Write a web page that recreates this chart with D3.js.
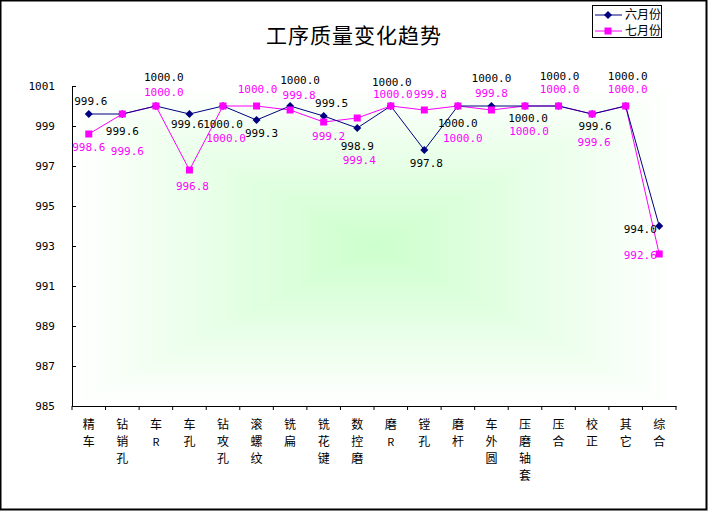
<!DOCTYPE html>
<html>
<head>
<meta charset="utf-8">
<script src="https://cdn.jsdelivr.net/npm/d3@7"></script>
<style>
  body { margin: 0; background: #fff; }
  svg { display: block; }
</style>
</head>
<body>
<svg width="708" height="511"></svg>
<script>
// Chart data
const categories = ["精车", "钻销孔", "车R", "车孔", "钻攻孔", "滚螺纹", "铣扁", "铣花键", "数控磨",
                    "磨R", "镗孔", "磨杆", "车外圆", "压磨轴套", "压合", "校正", "其它", "综合"];
const seriesNames = ["六月份", "七月份"];
const june = [999.6, 999.6, 1000.0, 999.6, 1000.0, 999.3, 1000.0, 999.5, 998.9,
              1000.0, 997.8, 1000.0, 1000.0, 1000.0, 1000.0, 999.6, 1000.0, 994.0];
const july = [998.6, 999.6, 1000.0, 996.8, 1000.0, 1000.0, 999.8, 999.2, 999.4,
              1000.0, 999.8, 1000.0, 999.8, 1000.0, 1000.0, 999.6, 1000.0, 992.6];
const yTicks = [985, 987, 989, 991, 993, 995, 997, 999, 1001];

// Hand placed data label offsets (label centre relative to its point), as in the original
const juneLabelOffsets = [[2,-13],[0,17],[8,-29],[-2,10],[0,18],[5,13],[10,-26],[8,-13],[0,18],
                          [1,-24],[2,13],[0,17],[0,-28],[3,12],[1,-30],[3,12],[2,-30],[-19,3]];
const julyLabelOffsets = [[0,13],[5,37],[8,-14],[3,16],[3,32],[1,-17],[9,-15],[5,14],[2,42],
                          [2,-12],[6,-16],[5,32],[0,-17],[4,25],[1,-17],[2,28],[2,-17],[-19,1]];

const svg = d3.select("svg");
const W = 708, H = 511;
const plot = {left: 72, right: 676, top: 86, bottom: 406};

const x = d3.scaleBand().domain(categories).range([plot.left, plot.right]).padding(0);
const y = d3.scaleLinear().domain([985, 1001]).range([plot.bottom, plot.top]);
const cx = d => x(d) + x.bandwidth() / 2;

// outer frame
svg.append("rect")
    .attr("x", 0.5).attr("y", 0.5)
    .attr("width", W - 2).attr("height", H - 2)
    .attr("fill", "#fff").attr("stroke", "#000").attr("stroke-width", 2);

// plot area: rectangular "from centre" gradient, white edges to light green centre
const steps = 60;
const shade = d3.interpolateRgb("#ffffff", "#ccffcc");
const pw = plot.right - plot.left, ph = plot.bottom - plot.top;
const bg = svg.append("g");
d3.range(steps).forEach(k => {
    const t = k / steps;
    bg.append("rect")
        .attr("x", plot.left + t * pw / 2)
        .attr("y", plot.top + t * ph / 2)
        .attr("width", pw * (1 - t))
        .attr("height", ph * (1 - t))
        .attr("fill", shade(t));
});

// title
svg.append("text")
    .attr("x", 354).attr("y", 43)
    .attr("text-anchor", "middle")
    .attr("font-family", "Noto Sans CJK SC")
    .attr("font-size", 21)
    .attr("letter-spacing", 1)
    .text("工序质量变化趋势");

// y axis
const yAxis = d3.axisLeft(y).tickValues(yTicks).tickFormat(d3.format("d"))
    .tickSizeInner(-4).tickSizeOuter(0).tickPadding(17);
svg.append("g")
    .attr("transform", `translate(${plot.left},0)`)
    .call(yAxis)
    .call(g => g.selectAll("text")
        .attr("font-family", "DejaVu Sans Mono").attr("font-size", 11).attr("fill", "#000"))
    .call(g => g.selectAll("line, path").attr("stroke", "#000"));

// x axis with ticks on band boundaries
const xAxisG = svg.append("g").attr("transform", `translate(0,${plot.bottom})`);
xAxisG.call(d3.axisBottom(x).tickSize(0).tickFormat(""))
    .call(g => g.select(".domain").attr("stroke", "#000"));
const bounds = categories.map(c => x(c)).concat([x(categories[categories.length - 1]) + x.bandwidth()]);
xAxisG.selectAll("line.bound")
    .data(bounds)
    .enter().append("line")
    .attr("class", "bound")
    .attr("x1", d => d).attr("x2", d => d)
    .attr("y1", 0).attr("y2", 4)
    .attr("stroke", "#000");

// vertical category labels, one character per line
const catLabels = svg.append("g")
    .attr("font-family", "Noto Sans CJK SC")
    .attr("text-anchor", "middle");
categories.forEach(c => {
    Array.from(c).forEach((ch, i) => {
        catLabels.append("text")
            .attr("x", cx(c))
            .attr("y", 425 + i * 17)
            .attr("dy", "0.35em")
            .attr("font-size", /[A-Za-z]/.test(ch) ? 11 : 12)
            .text(ch);
    });
});

// series
const series = [
    {name: seriesNames[0], values: june, color: "#000080", textColor: "#000", marker: "diamond", offsets: juneLabelOffsets},
    {name: seriesNames[1], values: july, color: "#ff00ff", textColor: "#ff00ff", marker: "square", offsets: julyLabelOffsets}
];

const line = d3.line()
    .x((d, i) => cx(categories[i]))
    .y(d => y(d));

function drawMarker(g, type, color) {
    if (type === "diamond") {
        g.append("path").attr("d", "M0,-4L4,0L0,4L-4,0Z").attr("fill", color);
    } else {
        g.append("rect").attr("x", -3.5).attr("y", -3.5).attr("width", 7).attr("height", 7).attr("fill", color);
    }
}

// July drawn first so June's navy line stays visible where they overlap
[series[1], series[0]].forEach(s => {
    svg.append("path")
        .datum(s.values)
        .attr("d", line)
        .attr("fill", "none")
        .attr("stroke", s.color)
        .attr("stroke-width", 1);
});

series.forEach(s => {
    s.values.forEach((v, i) => {
        const g = svg.append("g").attr("transform", `translate(${cx(categories[i])},${y(v)})`);
        drawMarker(g, s.marker, s.color);
    });
});

series.forEach(s => {
    svg.append("g")
        .selectAll("text")
        .data(s.values)
        .enter().append("text")
        .attr("x", (d, i) => cx(categories[i]) + s.offsets[i][0])
        .attr("y", (d, i) => y(d) + s.offsets[i][1])
        .attr("dy", "0.35em")
        .attr("text-anchor", "middle")
        .attr("font-family", "DejaVu Sans Mono")
        .attr("font-size", 11)
        .attr("fill", s.textColor)
        .text(d => d3.format(".1f")(d));
});

// legend
const legend = svg.append("g").attr("transform", "translate(592,5)");
legend.append("rect")
    .attr("x", 0.5).attr("y", 0.5)
    .attr("width", 69).attr("height", 32)
    .attr("fill", "#fff").attr("stroke", "#000");
series.forEach((s, i) => {
    const row = legend.append("g").attr("transform", `translate(0,${10 + i * 16})`);
    row.append("line")
        .attr("x1", 3).attr("x2", 30)
        .attr("stroke", s.color);
    const m = row.append("g").attr("transform", "translate(16,0)");
    drawMarker(m, s.marker, s.color);
    row.append("text")
        .attr("x", 33).attr("y", 0).attr("dy", "0.35em")
        .attr("font-family", "Noto Sans CJK SC")
        .attr("font-size", 12)
        .text(s.name);
});
</script>
</body>
</html>
